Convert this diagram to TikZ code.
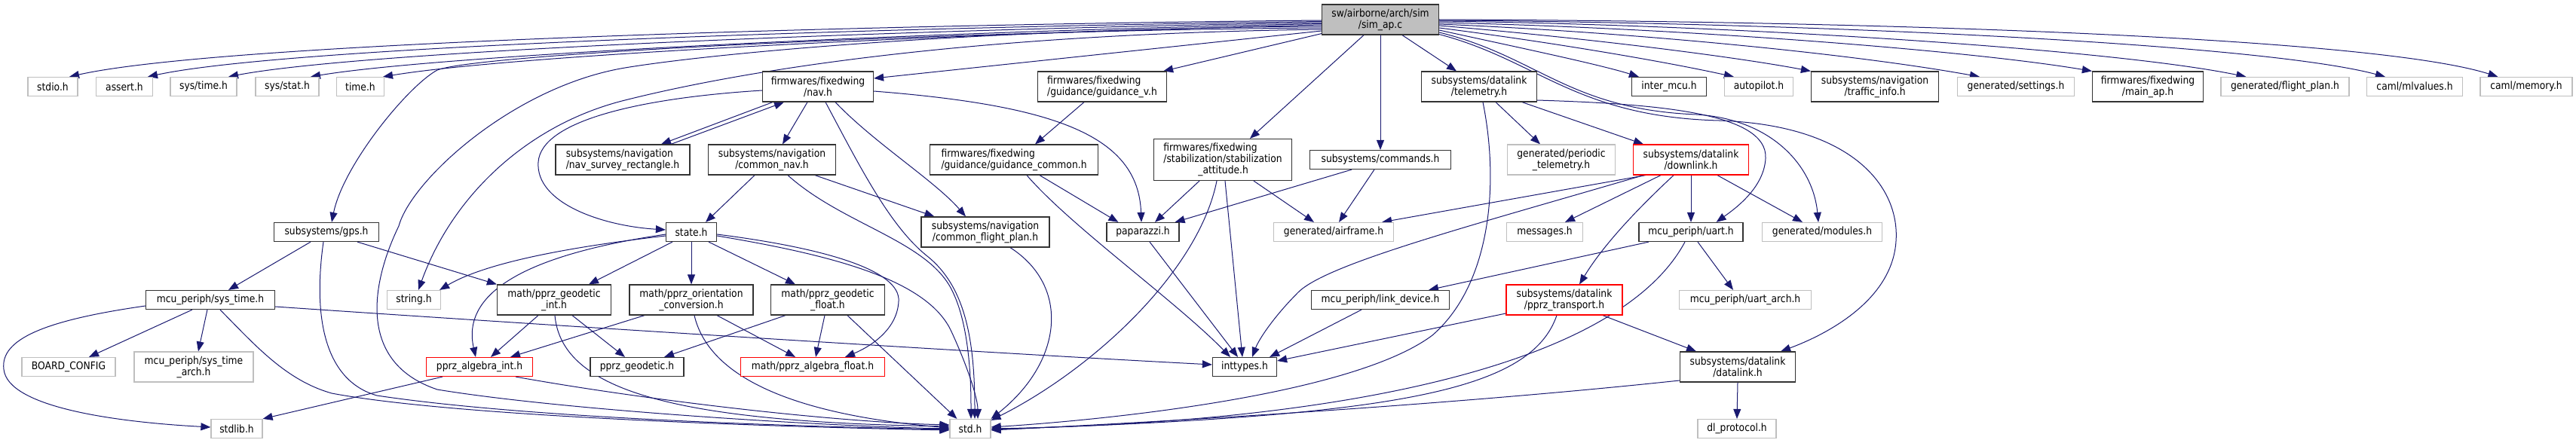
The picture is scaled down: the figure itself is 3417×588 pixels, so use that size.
\documentclass[tikz,border=0pt]{standalone}
\usepackage{fontspec}
\setmainfont{DejaVu Sans}[FakeStretch=0.88]
\usetikzlibrary{arrows.meta,calc,backgrounds}
\definecolor{edgec}{HTML}{191970}
\definecolor{grayb}{HTML}{BFBFBF}
\definecolor{rootf}{HTML}{BFBFBF}
\begin{document}
\begin{tikzpicture}[x=1pt,y=-1pt,
  box/.style={draw=black!80, line width=1.2pt, fill=white, inner sep=0pt, align=center,
              font=\fontsize{14}{15}\selectfont, text=black, minimum height=25pt},
  tall/.style={minimum height=40pt},
  gbox/.style={box, draw=grayb},
  rbox/.style={box, draw=red},
  rootbox/.style={box, fill=rootf},
  e/.style={draw=edgec, line width=1.0pt, -{Triangle[length=13pt,width=10pt]}}]
\useasboundingbox (0,0) rectangle (3417,588);

% ---------- nodes ----------
\node[rootbox, tall, minimum width=155pt] (sim) at (1831,26) {sw/airborne/arch/sim\\/sim\_ap.c};
\node[gbox, minimum width=66pt] (stdio) at (70,115) {stdio.h};
\node[gbox, minimum width=75pt] (assert) at (165,115) {assert.h};
\node[gbox, minimum width=88pt] (systime) at (270,115) {sys/time.h};
\node[gbox, minimum width=84pt] (sysstat) at (381,115) {sys/stat.h};
\node[gbox, minimum width=63pt] (timeh) at (478,115) {time.h};
\node[box, minimum width=139pt] (gps) at (433,308) {subsystems/gps.h};
\node[box, tall, minimum width=147pt] (navh) at (1085,115) {firmwares/fixedwing\\/nav.h};
\node[box, tall, minimum width=178pt, align=left] (survey) at (826,212) {subsystems/navigation\\/nav\_survey\_rectangle.h};
\node[box, tall, minimum width=169pt] (commonnav) at (1024,212) {subsystems/navigation\\/common\_nav.h};
\node[box, minimum width=67pt] (stateh) at (917,308) {state.h};
\node[box, tall, minimum width=171pt, align=left] (guidv) at (1462,115) {firmwares/fixedwing\\/guidance/guidance\_v.h};
\node[box, tall, minimum width=223pt, align=left] (guidc) at (1345,212) {firmwares/fixedwing\\/guidance/guidance\_common.h};
\node[box, minimum height=55pt, minimum width=183pt, align=left] (stab) at (1622,212) {firmwares/fixedwing\\/stabilization/stabilization\\\hspace*{46pt}\_attitude.h};
\node[box, tall, minimum width=170pt] (cfp) at (1307,308) {subsystems/navigation\\/common\_flight\_plan.h};
\node[box, minimum width=96pt] (papa) at (1516,308) {paparazzi.h};
\node[box, tall, minimum width=153pt] (telem) at (1962,115) {subsystems/datalink\\/telemetry.h};
\node[box, minimum width=99pt] (intermcu) at (2214,115) {inter\_mcu.h};
\node[box, minimum width=187pt] (commands) at (1831,212) {subsystems/commands.h};
\node[gbox, tall, minimum width=143pt] (periodic) at (2071,212) {generated/periodic\\\_telemetry.h};
\node[rbox, tall, minimum width=153pt] (downlink) at (2243,212) {subsystems/datalink\\/downlink.h};
\node[gbox, minimum width=159pt] (airframe) at (1769,308) {generated/airframe.h};
\node[gbox, minimum width=101pt] (messages) at (2049,308) {messages.h};
\node[box, minimum width=138pt] (uart) at (2243,308) {mcu\_periph/uart.h};
\node[gbox, minimum width=159pt] (modules) at (2417,308) {generated/modules.h};
\node[box, minimum width=183pt] (linkdev) at (1831,398) {mcu\_periph/link\_device.h};
\node[rbox, tall, minimum width=154pt] (transport) at (2075,398) {subsystems/datalink\\/pprz\_transport.h};
\node[gbox, minimum width=175pt] (uartarch) at (2315,398) {mcu\_periph/uart\_arch.h};
\node[box, tall, minimum width=153pt] (datalink) at (2305,487) {subsystems/datalink\\/datalink.h};
\node[gbox, minimum width=104pt] (dlproto) at (2304,569) {dl\_protocol.h};
\node[box, minimum width=85pt] (inttypes) at (1651,487) {inttypes.h};
\node[gbox, minimum width=54pt] (std) at (1287,569) {std.h};
\node[gbox, minimum width=91pt] (autopilot) at (2333,115) {autopilot.h};
\node[box, tall, minimum width=169pt] (traffic) at (2487,115) {subsystems/navigation\\/traffic\_info.h};
\node[gbox, minimum width=155pt] (settings) at (2674,115) {generated/settings.h};
\node[box, tall, minimum width=147pt] (mainap) at (2849,115) {firmwares/fixedwing\\/main\_ap.h};
\node[gbox, minimum width=170pt] (flightplan) at (3031,115) {generated/flight\_plan.h};
\node[gbox, minimum width=127pt] (mlvalues) at (3203,115) {caml/mlvalues.h};
\node[gbox, minimum width=122pt] (memory) at (3351,115) {caml/memory.h};
\node[box, minimum width=171pt] (systimeh) at (279,398) {mcu\_periph/sys\_time.h};
\node[gbox, minimum width=124pt] (boardcfg) at (91,487) {BOARD\_CONFIG};
\node[gbox, tall, minimum width=158pt] (systimearch) at (257,487) {mcu\_periph/sys\_time\\\_arch.h};
\node[gbox, minimum width=68pt] (stdlib) at (314,569) {stdlib.h};
\node[gbox, minimum width=71pt] (string) at (549,398) {string.h};
\node[rbox, minimum width=141pt] (algint) at (636,487) {pprz\_algebra\_int.h};
\node[box, tall, minimum width=151pt] (geoint) at (735,398) {math/pprz\_geodetic\\\_int.h};
\node[box, tall, minimum width=164pt] (orient) at (917,398) {math/pprz\_orientation\\\_conversion.h};
\node[box, tall, minimum width=151pt] (geofloat) at (1098,398) {math/pprz\_geodetic\\\_float.h};
\node[box, minimum width=124pt] (geodetic) at (845,487) {pprz\_geodetic.h};
\node[rbox, minimum width=191pt] (algfloat) at (1078,487) {math/pprz\_algebra\_float.h};

% ---------- edges ----------
\begin{scope}[on background layer]
% sim_ap.c, left side
\draw[e] ($(sim.west)+(0,1)$) .. controls (1200,32) and (300,55) .. ($(stdio.north)+(22,0)$);
\draw[e] ($(sim.west)+(0,2.5)$) .. controls (1220,35) and (390,60) .. ($(assert.north)+(31,0)$);
\draw[e] ($(sim.west)+(0,4)$) .. controls (1240,38) and (490,66) .. ($(systime.north)+(33,0)$);
\draw[e] ($(sim.west)+(0,5.5)$) .. controls (1260,41) and (590,72) .. ($(sysstat.north)+(31,0)$);
\draw[e] ($(sim.west)+(0,7)$) .. controls (1280,44) and (690,72) .. ($(timeh.north)+(30,0)$);
\draw[e] ($(sim.west)+(0,9)$) .. controls (1300,38) and (950,70) .. (829,90)
   .. controls (680,115) and (545,240) .. (529,300)
   .. controls (495,370) and (470,480) .. (580,517)
   .. controls (750,545) and (1100,566) .. (std.west);
\draw[e] ($(sim.west)+(0,11)$) .. controls (1300,40) and (640,70) .. (580,93)
   .. controls (540,115) and (455,220) .. ($(gps.north)+(7,0)$);
\draw[e] ($(sim.west)+(0,13)$) .. controls (1300,45) and (1000,90) .. (829,133)
   .. controls (700,165) and (600,260) .. ($(string.north)+(6,0)$);
\draw[e] ($(sim.west)+(0,15)$) -- ($(navh.east)+(0,-11)$);
\draw[e] ($(sim.south west)+(0,-2)$) -- ($(guidv.north east)+(-5,0)$);
\draw[e] ($(sim.south)+(-22,0)$) -- ($(stab.north)+(36,0)$);
\draw[e] (sim.south) -- (commands.north);
\draw[e] ($(sim.south)+(29,0)$) -- ($(telem.north)+(-30,0)$);
% sim_ap.c, right side
\draw[e] ($(sim.east)+(0,14)$) .. controls (2000,60) and (2120,85) .. ($(intermcu.north west)+(10,0)$);
\draw[e] ($(sim.east)+(0,11)$) .. controls (2050,55) and (2200,80) .. ($(autopilot.north west)+(13,0)$);
\draw[e] ($(sim.east)+(0,8)$) .. controls (2100,50) and (2300,75) .. (traffic.north west);
\draw[e] ($(sim.east)+(0,6)$) .. controls (2150,42) and (2450,70) .. ($(settings.north west)+(30,0)$);
\draw[e] ($(sim.east)+(0,4)$) .. controls (2200,36) and (2600,65) .. (mainap.north west);
\draw[e] ($(sim.east)+(0,2)$) .. controls (2300,33) and (2800,65) .. ($(flightplan.north west)+(34,0)$);
\draw[e] ($(sim.east)+(0,1)$) .. controls (2400,30) and (3000,58) .. ($(mlvalues.north west)+(25,0)$);
\draw[e] (sim.east) .. controls (2500,28) and (3150,50) .. ($(memory.north west)+(24,0)$);
\draw[e] ($(sim.east)+(0,17)$) .. controls (2040,75) and (2080,145) .. (2250,152)
   .. controls (2350,158) and (2405,220) .. ($(modules.north)+(-5,0)$);
\draw[e] ($(sim.south east)+(0,-1)$) .. controls (2040,80) and (2090,155) .. (2280,160)
   .. controls (2460,166) and (2520,250) .. (2515,320)
   .. controls (2510,400) and (2420,445) .. ($(datalink.north east)+(-20,0)$);
% nav.h
\draw[e] ($(navh.south)+(-60,0)$) -- ($(survey.north)+(51,0)$);
\draw[e] ($(survey.north)+(64,0)$) -- ($(navh.south)+(-45,0)$);
\draw[e] ($(navh.south)+(-14,0)$) -- ($(commonnav.north)+(14,0)$);
\draw[e] ($(navh.west)+(0,5)$) .. controls (850,130) and (718,160) .. (714,215)
   .. controls (710,270) and (800,300) .. ($(stateh.west)+(0,-3)$);
\draw[e] ($(navh.east)+(0,6)$) .. controls (1400,140) and (1510,180) .. ($(papa.north)+(-2,0)$);
\draw[e] ($(navh.south)+(23,0)$) .. controls (1160,190) and (1240,240) .. ($(cfp.north)+(-26,0)$);
\draw[e] ($(navh.south)+(10,0)$) .. controls (1140,220) and (1180,300) .. (1230,340)
   .. controls (1280,380) and (1293,450) .. ($(std.north)+(6,0)$);
% common_nav.h
\draw[e] ($(commonnav.south)+(-23,0)$) -- ($(stateh.north)+(19,0)$);
\draw[e] ($(commonnav.south)+(57,0)$) -- ($(cfp.north west)+(18,0)$);
\draw[e] ($(commonnav.south)+(21,0)$) .. controls (1120,300) and (1235,320) .. (1265,390)
   .. controls (1288,440) and (1288,520) .. ($(std.north)+(1,0)$);
% state.h
\draw[e] ($(stateh.west)+(0,5)$) .. controls (780,325) and (650,345) .. ($(string.north east)+(-2,0)$);
\draw[e] ($(stateh.west)+(0,3)$) .. controls (720,335) and (610,380) .. ($(algint.north)+(-5,0)$);
\draw[e] ($(stateh.south)+(-25,0)$) -- ($(geoint.north)+(46,0)$);
\draw[e] (stateh.south) -- (orient.north);
\draw[e] ($(stateh.south)+(23,0)$) -- ($(geofloat.north)+(-43,0)$);
\draw[e] ($(stateh.east)+(0,5)$) .. controls (1100,338) and (1230,370) .. (1262,440)
   .. controls (1285,490) and (1297,530) .. ($(std.north)+(10,0)$);
\draw[e] ($(stateh.east)+(0,3)$) .. controls (1100,330) and (1195,360) .. (1192,400)
   .. controls (1190,440) and (1150,462) .. ($(algfloat.north)+(43,0)$);
% geodetic int / orientation / geodetic float
\draw[e] ($(geoint.south)+(-21,0)$) -- ($(algint.north)+(15,0)$);
\draw[e] ($(geoint.south)+(24,0)$) -- ($(geodetic.north)+(-16,0)$);
\draw[e] ($(geoint.south)+(1,0)$) .. controls (745,520) and (900,560) .. ($(std.west)+(0,-3)$);
\draw[e] ($(orient.south)+(-62,0)$) -- ($(algint.north)+(41,0)$);
\draw[e] ($(orient.south)+(34,0)$) -- ($(algfloat.north)+(-23,0)$);
\draw[e] ($(orient.south)+(4,0)$) .. controls (940,500) and (1050,550) .. ($(std.west)+(0,-1)$);
\draw[e] ($(geofloat.south)+(-56,0)$) -- ($(geodetic.north)+(36,0)$);
\draw[e] ($(geofloat.south)+(-4,0)$) -- ($(algfloat.north)+(4,0)$);
\draw[e] ($(geofloat.south)+(26,0)$) -- ($(std.north west)+(10,0)$);
% pprz_algebra_int.h
\draw[e] ($(algint.south west)+(22,0)$) -- (stdlib.north east);
\draw[e] ($(algint.south)+(48,0)$) .. controls (850,530) and (1100,560) .. ($(std.west)+(0,-5)$);
% sys_time.h
\draw[e] ($(systimeh.west)+(0,8)$) .. controls (60,425) and (0,450) .. (5,490)
   .. controls (10,540) and (150,560) .. ($(stdlib.west)+(0,-2)$);
\draw[e] ($(systimeh.south)+(-24,0)$) -- ($(boardcfg.north)+(27,0)$);
\draw[e] ($(systimeh.south)+(-4,0)$) -- ($(systimearch.north)+(6,0)$);
\draw[e] ($(systimeh.south)+(13,0)$) .. controls (340,460) and (380,505) .. (440,522)
   .. controls (600,552) and (1000,566) .. ($(std.west)+(0,2)$);
\draw[e] ($(systimeh.east)+(0,9)$) .. controls (700,430) and (1300,468) .. ($(inttypes.west)+(0,-3)$);
% gps.h
\draw[e] ($(gps.south)+(-21,0)$) -- ($(systimeh.north)+(24,0)$);
\draw[e] ($(gps.south)+(41,0)$) -- (geoint.north west);
\draw[e] ($(gps.south)+(-4,0)$) .. controls (415,420) and (430,505) .. (500,525)
   .. controls (700,555) and (1050,566) .. ($(std.west)+(0,1)$);
% guidance
\draw[e] ($(guidv.south)+(-24,0)$) -- ($(guidc.north)+(28,0)$);
\draw[e] ($(guidc.south)+(34,0)$) -- ($(papa.north west)+(16,0)$);
\draw[e] ($(guidc.south)+(17,0)$) .. controls (1420,300) and (1560,400) .. ($(inttypes.north)+(-19,0)$);
% common_flight_plan.h
\draw[e] ($(cfp.south)+(33,0)$) .. controls (1420,380) and (1410,480) .. (std.north east);
% stabilization
\draw[e] ($(stab.south)+(-31,0)$) -- ($(papa.north)+(16,0)$);
\draw[e] ($(stab.south)+(-8,0)$) .. controls (1590,360) and (1450,490) .. ($(std.north east)+(0,2)$);
\draw[e] ($(stab.south)+(3,0)$) -- ($(inttypes.north)+(-3,0)$);
\draw[e] ($(stab.south)+(41,0)$) -- ($(airframe.north)+(-26,0)$);
% paparazzi.h, commands.h
\draw[e] ($(papa.south)+(9,0)$) -- ($(inttypes.north)+(-9,0)$);
\draw[e] ($(commands.south)+(-38,0)$) -- ($(papa.north east)+(-6,0)$);
\draw[e] ($(commands.south)+(-8,0)$) -- ($(airframe.north)+(7,0)$);
% telemetry.h
\draw[e] ($(telem.south)+(5,0)$) .. controls (1990,250) and (1975,380) .. (1900,445)
   .. controls (1800,520) and (1500,555) .. ($(std.east)+(0,-2)$);
\draw[e] ($(telem.south)+(22,0)$) -- ($(periodic.north)+(-28,0)$);
\draw[e] ($(telem.south)+(57,0)$) -- ($(downlink.north)+(-63,0)$);
\draw[e] ($(telem.east)+(0,18)$) .. controls (2200,138) and (2345,150) .. (2342,210)
   .. controls (2340,250) and (2300,278) .. ($(uart.north east)+(-36,0)$);
% downlink.h
\draw[e] ($(downlink.south)+(-60,0)$) -- ($(airframe.north east)+(-16,0)$);
\draw[e] ($(downlink.south)+(-63,0)$) .. controls (1950,300) and (1760,350) .. (1722,388)
   .. controls (1690,420) and (1670,450) .. ($(inttypes.north)+(10,0)$);
\draw[e] ($(downlink.south)+(-40,0)$) -- ($(messages.north)+(27,0)$);
\draw[e] ($(downlink.south)+(-23,0)$) .. controls (2180,270) and (2130,320) .. ($(transport.north)+(20,0)$);
\draw[e] (downlink.south) -- (uart.north);
\draw[e] ($(downlink.south)+(35,0)$) -- ($(modules.north)+(-26,0)$);
% uart.h
\draw[e] ($(uart.south)+(-56,0)$) -- ($(linkdev.north)+(64,0)$);
\draw[e] ($(uart.south)+(-8,0)$) .. controls (2150,480) and (1800,560) .. (std.east);
\draw[e] ($(uart.south)+(9,0)$) -- ($(uartarch.north)+(-16,0)$);
% pprz_transport.h
\draw[e] ($(transport.west)+(0,18)$) -- ($(inttypes.east)+(0,-8)$);
\draw[e] ($(transport.south)+(-10,0)$) .. controls (2030,520) and (1850,552) .. ($(std.east)+(0,1)$);
\draw[e] ($(transport.south)+(51,0)$) -- ($(datalink.north)+(-55,0)$);
% datalink.h, link_device.h
\draw[e] ($(datalink.west)+(0,18)$) .. controls (1900,540) and (1500,562) .. ($(std.east)+(0,2)$);
\draw[e] (datalink.south) -- (dlproto.north);
\draw[e] ($(linkdev.south)+(-25,0)$) -- ($(inttypes.north east)+(-10,0)$);
\end{scope}
\end{tikzpicture}
\end{document}
